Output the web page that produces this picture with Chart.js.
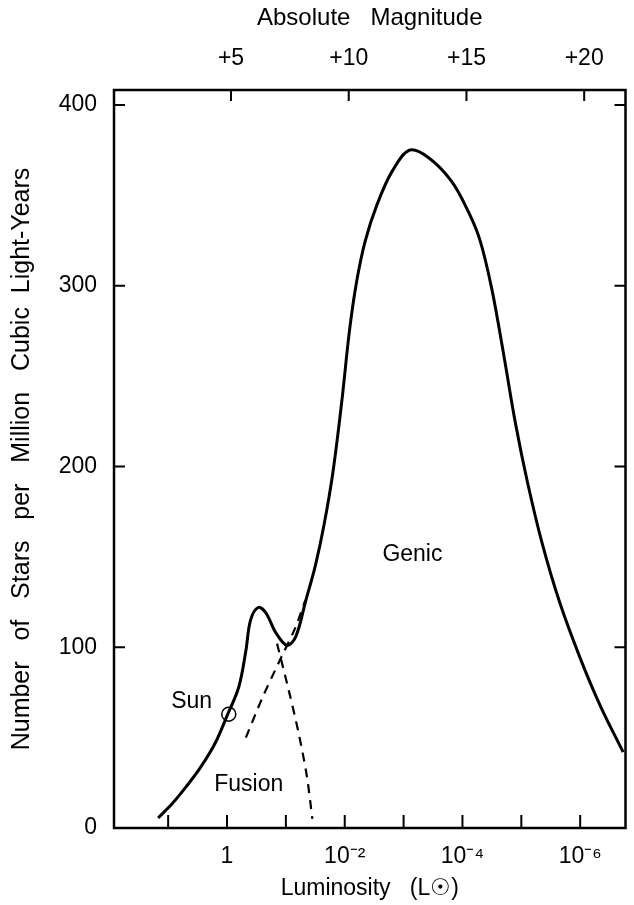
<!DOCTYPE html>
<html>
<head>
<meta charset="utf-8">
<script src="https://cdn.jsdelivr.net/npm/chart.js@4.4.1/dist/chart.umd.min.js"></script>
<style>
  html, body { margin: 0; padding: 0; background: #fff; }
  #wrap { width: 634px; height: 905px; }
</style>
</head>
<body>
<div id="wrap"><canvas id="lf-canvas"></canvas></div>
<script>
// luminosity function, x = log10(L / Lsun)
const logLum = [
  1.17, 0.93, 0.69, 0.45, 0.2, 0.0, -0.2, -0.32, -0.4, -0.53, -0.66, -0.83, -1.02,
  -1.17, -1.34, -1.5, -1.65, -1.8, -1.95, -2.08, -2.2, -2.35, -2.55, -2.8, -3.1,
  -3.42, -3.81, -4.1, -4.3, -4.5, -4.7, -4.9, -5.1, -5.35, -5.65, -6.0, -6.35, -6.73,
];
const starCounts = [
  5.5, 13.5, 23, 33.5, 47, 62, 78, 98, 115, 122, 119, 108, 101,
  106, 126, 145, 168, 197, 236, 275, 302, 325, 345, 363, 375,
  371, 358, 341, 325, 298, 262, 224, 192, 158, 125, 94, 67, 42,
];
// dashed components
const genicLogLum = [-0.32, -0.6, -0.93, -1.15, -1.33];
const genicCounts = [50, 72, 95, 110, 126];
const fusionLogLum = [-0.85, -1.05, -1.22, -1.36, -1.45];
const fusionCounts = [102, 76, 52, 28, 5];
const sunPoint = { x: -0.03, y: 63 };

const lumTicks = [1, 0, -1, -2, -3, -4, -5, -6];
const lumLabels = { "0": "1", "-2": "10\u207B\u00B2", "-4": "10\u207B\u2074", "-6": "10\u207B\u2076" };
const magTicks = [5, 10, 15, 20];
const countTicks = [0, 100, 200, 300, 400];

const notes = [
  { text: "Sun", x: 0.6, y: 70 },
  { text: "Genic", x: -3.15, y: 151 },
  { text: "Fusion", x: -0.37, y: 24 },
];

const toPoints = (xs, ys) => xs.map((x, i) => ({ x: x, y: ys[i] }));
// M = 4.83 - 2.5 log L
const magOf = (logL) => 4.83 - 2.5 * logL;

const xMin = -6.77, xMax = 1.92;
const FONT = "'Liberation Sans', Arial, Helvetica, sans-serif";
Chart.defaults.font.family = FONT;
Chart.defaults.font.size = 23;
Chart.defaults.color = "#000";

const framePlugin = {
  id: "frame",
  afterDatasetsDraw(chart) {
    const { ctx, chartArea: a, scales } = chart;
    ctx.save();
    ctx.strokeStyle = "#000";
    ctx.lineWidth = 2.5;
    ctx.strokeRect(a.left, a.top, a.right - a.left, a.bottom - a.top);
    ctx.lineWidth = 2;
    ctx.beginPath();
    lumTicks.forEach((v) => {
      const px = scales.x.getPixelForValue(v);
      ctx.moveTo(px, a.bottom); ctx.lineTo(px, a.bottom - 13);
    });
    magTicks.forEach((v) => {
      const px = scales.x2.getPixelForValue(v);
      ctx.moveTo(px, a.top); ctx.lineTo(px, a.top + 11);
    });
    countTicks.filter((v) => v > 0).forEach((v) => {
      const py = scales.y.getPixelForValue(v);
      ctx.moveTo(a.left, py); ctx.lineTo(a.left + 11, py);
      ctx.moveTo(a.right, py); ctx.lineTo(a.right - 11, py);
    });
    ctx.stroke();

    ctx.fillStyle = "#000";
    ctx.font = "23px " + FONT;
    ctx.textAlign = "center";
    ctx.textBaseline = "middle";
    notes.forEach((n) => {
      ctx.fillText(n.text, scales.x.getPixelForValue(n.x), scales.y.getPixelForValue(n.y));
    });
    ctx.restore();
  },
};

const ctx = document.getElementById("lf-canvas").getContext("2d");
new Chart(ctx, {
  type: "scatter",
  data: {
    datasets: [
      {
        label: "Luminosity function",
        data: toPoints(logLum, starCounts),
        showLine: true,
        borderColor: "#000",
        borderWidth: 3,
        pointRadius: 0,
        tension: 0.35,
      },
      {
        label: "Genic",
        data: toPoints(genicLogLum, genicCounts),
        showLine: true,
        borderColor: "#000",
        borderWidth: 2.2,
        borderDash: [9, 7],
        pointRadius: 0,
        tension: 0.3,
      },
      {
        label: "Fusion",
        data: toPoints(fusionLogLum, fusionCounts),
        showLine: true,
        borderColor: "#000",
        borderWidth: 2.2,
        borderDash: [9, 7],
        pointRadius: 0,
        tension: 0.3,
      },
      {
        label: "Sun",
        data: [sunPoint],
        pointRadius: 7,
        pointBorderWidth: 1.5,
        pointBorderColor: "#000",
        pointBackgroundColor: "rgba(0,0,0,0)",
      },
    ],
  },
  options: {
    responsive: true,
    maintainAspectRatio: false,
    animation: false,
    layout: { padding: { left: 0, right: 3, top: 0, bottom: 0 } },
    plugins: { legend: { display: false }, tooltip: { enabled: false } },
    scales: {
      x: {
        type: "linear",
        position: "bottom",
        reverse: true,
        min: xMin,
        max: xMax,
        grid: { display: false, drawTicks: false },
        border: { display: false },
        afterBuildTicks: (s) => { s.ticks = lumTicks.map((v) => ({ value: v })); },
        afterFit: (s) => { s.height = 77; },
        ticks: {
          autoSkip: false,
          maxRotation: 0,
          padding: 15,
          callback: (v) => lumLabels[String(v)] || "",
        },
        title: { display: true, text: "Luminosity   (L\u2609)", padding: { top: 0, bottom: 3 } },
      },
      x2: {
        type: "linear",
        position: "top",
        min: magOf(xMax),
        max: magOf(xMin),
        grid: { display: false, drawTicks: false },
        border: { display: false },
        afterBuildTicks: (s) => { s.ticks = magTicks.map((v) => ({ value: v })); },
        afterFit: (s) => { s.height = 90; },
        ticks: { autoSkip: false, maxRotation: 0, padding: 18, callback: (v) => "+" + v },
        title: {
          display: true,
          text: "Absolute   Magnitude",
          font: { size: 24 },
          padding: { top: 4, bottom: 0 },
        },
      },
      y: {
        type: "linear",
        min: 0,
        max: 408.3,
        grid: { display: false, drawTicks: false },
        border: { display: false },
        afterBuildTicks: (s) => { s.ticks = countTicks.map((v) => ({ value: v })); },
        afterFit: (s) => { s.width = 114; },
        ticks: { padding: 17 },
        title: {
          display: true,
          text: "Number   of   Stars   per   Million   Cubic  Light-Years",
          font: { size: 25 },
          padding: { top: 7, bottom: 0 },
        },
      },
    },
  },
  plugins: [framePlugin],
});
</script>
</body>
</html>
